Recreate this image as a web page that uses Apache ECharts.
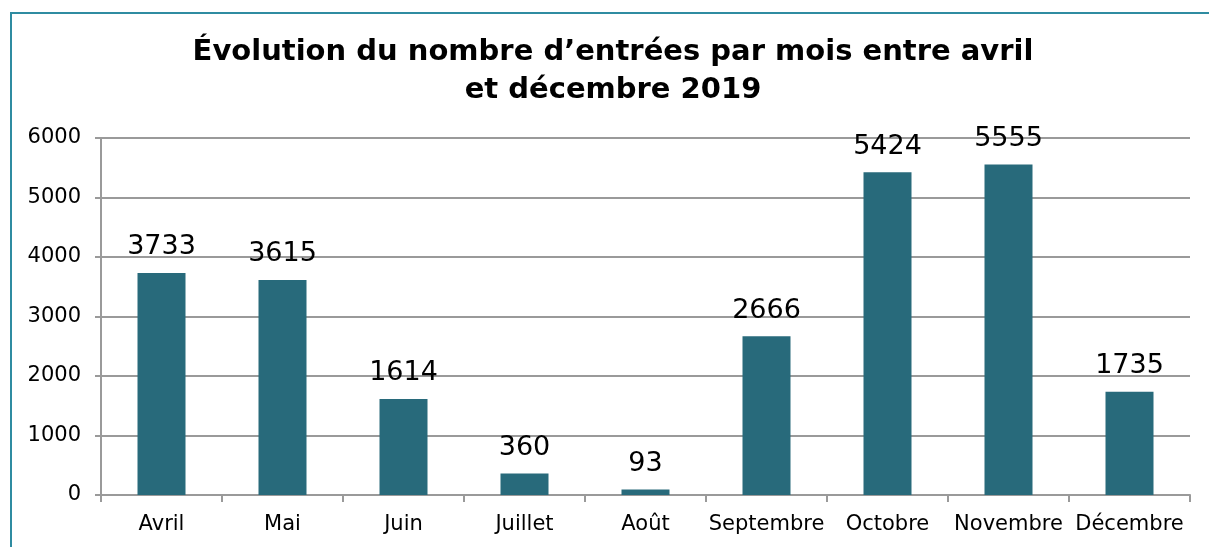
<!DOCTYPE html>
<html>
<head>
<meta charset="utf-8">
<script src="https://cdn.jsdelivr.net/npm/echarts@6/dist/echarts.min.js"></script>
<style>
  html, body { margin: 0; padding: 0; background: #fff; }
  #frame {
    position: absolute; left: 10px; top: 12px; width: 1220px; height: 560px;
    border: 2px solid #2f8ca1; box-sizing: border-box;
  }
  #chart { position: absolute; left: 0; top: 0; width: 1209px; height: 547px; }
</style>
</head>
<body>
<div id="frame"></div>
<div id="chart"></div>
<script>
const months = ['Avril', 'Mai', 'Juin', 'Juillet', 'Août', 'Septembre', 'Octobre', 'Novembre', 'Décembre'];
const entries = [3733, 3615, 1614, 360, 93, 2666, 5424, 5555, 1735];
const titleText = 'Évolution du nombre d’entrées par mois entre avril\net décembre 2019';

const chart = echarts.init(document.getElementById('chart'));

chart.setOption({
    animation: false,
    title: {
        text: titleText,
        left: 608,
        top: 28,
        textAlign: 'center',
        textStyle: {
            fontFamily: 'DejaVu Sans',
            fontWeight: 'bold',
            fontSize: 29,
            lineHeight: 38,
            color: '#000'
        }
    },
    grid: { left: 101, right: 19, top: 138, bottom: 52 },
    xAxis: {
        type: 'category',
        data: months,
        axisLine: { lineStyle: { color: '#9a9a9a', width: 2 } },
        axisTick: { show: true, length: 7, lineStyle: { color: '#9a9a9a', width: 2 } },
        axisLabel: { fontFamily: 'DejaVu Sans', fontSize: 21, color: '#000', margin: 19, interval: 0 }
    },
    yAxis: {
        type: 'value',
        min: 0,
        max: 6000,
        interval: 1000,
        axisLine: { show: true, lineStyle: { color: '#9a9a9a', width: 2 } },
        axisTick: { show: true, length: 6, lineStyle: { color: '#9a9a9a', width: 2 } },
        splitLine: { lineStyle: { color: '#9a9a9a', width: 2 } },
        axisLabel: {
            fontFamily: 'DejaVu Sans', fontSize: 21, color: '#000', margin: 20,
            formatter: v => String(v)
        }
    },
    series: [{
        type: 'bar',
        data: entries,
        barWidth: 48,
        itemStyle: { color: '#286a7b' },
        label: {
            show: true,
            position: 'top',
            distance: 12,
            fontFamily: 'DejaVu Sans',
            fontSize: 27,
            color: '#000'
        }
    }]
});
</script>
</body>
</html>
